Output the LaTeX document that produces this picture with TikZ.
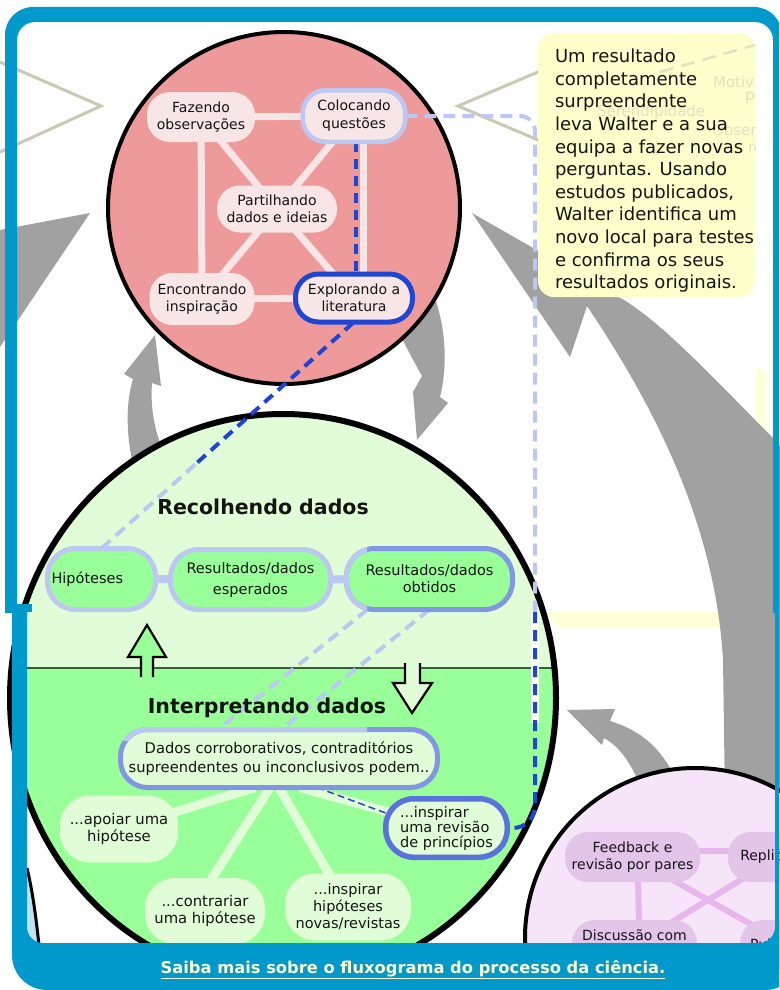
\documentclass[tikz,border=0pt]{standalone}
\usepackage{fontspec}
\setmainfont{DejaVu Sans}
\usetikzlibrary{calc}

\definecolor{frameblue}{HTML}{0099CC}
\definecolor{ink}{HTML}{141414}
\definecolor{rosefill}{HTML}{EE9A9A}
\definecolor{rosecell}{HTML}{F8E6E6}
\definecolor{notefill}{HTML}{FFFFCC}
\definecolor{hiddenfill}{HTML}{FFFFD8}
\definecolor{palegreen}{HTML}{E1FDD7}
\definecolor{midgreen}{HTML}{99FF99}
\definecolor{softblue}{HTML}{BDC8F2}
\definecolor{medblue}{HTML}{8197E3}
\definecolor{deepblue}{HTML}{1F45D3}
\definecolor{ringblue}{HTML}{5A73DC}
\definecolor{arrowgray}{HTML}{A1A1A1}
\definecolor{olive}{HTML}{C9C9B5}
\definecolor{ghost}{HTML}{E2E2BF}
\definecolor{lilacfill}{HTML}{F6E5F8}
\definecolor{lilaccell}{HTML}{E4C5EA}
\definecolor{lilacline}{HTML}{E7B6EC}
\definecolor{divider}{HTML}{3D5B3D}
\definecolor{linkyellow}{HTML}{FFFACD}
\definecolor{paleteal}{HTML}{BFE3EC}

\pgfdeclarelayer{base}
\pgfdeclarelayer{links}
\pgfsetlayers{base,links,main}

\begin{document}
\begin{tikzpicture}[x=1pt, y=-1pt,
  every node/.style={inner sep=0pt, outer sep=0pt, align=center, text=ink},
  fs/.style 2 args={font=\fontsize{#1}{#2}\selectfont},
  rosebox/.style={fill=rosecell, rounded corners=23pt, fs={14}{17}},
  greenpill/.style={fill=midgreen, draw=softblue, line width=5pt, rounded corners=28pt, fs={14.5}{17}},
  paleblob/.style={fill=palegreen, rounded corners=30pt, fs={14.8}{16.5}},
  lilacbox/.style={fill=lilaccell, rounded corners=23pt, fs={14}{17}},
  heading/.style={font=\fontsize{20.5}{24}\bfseries\selectfont},
  roselink/.style={rosecell, line width=7pt},
  spoke/.style={palegreen, line width=9pt},
  lilaclink/.style={lilacline, line width=6pt},
  softdash/.style={softblue, line width=4pt, dash pattern=on 12pt off 7pt},
  deepdash/.style={deepblue, line width=4pt, dash pattern=on 11pt off 7pt},
  hollow/.style={draw=black, line width=2.2pt, line join=miter},
]
\useasboundingbox (0,0) rectangle (779,990);

% ---------------- background shapes ----------------
\begin{pgfonlayer}{base}
  \fill[white] (0,0) rectangle (779,990);
  % second note panel, mostly covered by the page
  \fill[hiddenfill, rounded corners=16pt] (548,365) rectangle (766,627);
  \fill[white] (17,22) rectangle (756,612);
  % pointer outlines
  \draw[olive, line width=3pt] (0,62) -- (101,106) -- (0,152);
  \draw[olive, line width=3pt] (545,69) -- (458,106) -- (545,143);
  % grey cycle arrows
  \fill[arrowgray] (0,230) -- (90,213) -- (0,347) -- cycle;
  \fill[arrowgray] (472,213) -- (570,357) -- (587,306)
     .. controls (650,400) and (715,520) .. (723,660) -- (725,800) -- (800,800) -- (800,470)
     -- (775,440) .. controls (720,385) and (665,325) .. (624,300) -- cycle;
  \fill[arrowgray] (136,478) .. controls (126,440) and (125,405) .. (133,379) -- (124,374)
     -- (155,335) -- (161,386) -- (152,383) .. controls (150,410) and (155,435) .. (168,462) -- cycle;
  \fill[arrowgray] (392,318) .. controls (405,345) and (414,362) .. (422,376) -- (413,392)
     -- (417,440) -- (448,403) -- (440,397) .. controls (448,365) and (446,325) .. (432,290) -- cycle;
  \fill[arrowgray] (567,710) -- (615,709) -- (610,721) .. controls (640,730) and (662,748) .. (676,780)
     -- (640,785) .. controls (630,762) and (620,747) .. (604,738) -- (602,745) -- cycle;
  % exploration bubble
  \filldraw[fill=rosefill, draw=black, line width=4pt] (284,208) circle [radius=176pt];
  % testing bubble, split in two halves
  \begin{scope}
    \clip (283,698) ellipse [x radius=273pt, y radius=284pt];
    \fill[palegreen] (0,400) rectangle (600,668);
    \fill[midgreen] (0,668) rectangle (600,1000);
    \draw[divider, line width=2.5pt] (0,668) -- (600,668);
  \end{scope}
  \draw[black, line width=6pt] (283,698) ellipse [x radius=273pt, y radius=284pt];
  \fill[white] (531,612) rectangle (539,723);
  % community bubble
  \filldraw[fill=lilacfill, draw=black, line width=4pt] (695,938) circle [radius=170pt];
  % edge of a further bubble at lower left
  \fill[paleteal] (20,860) -- (27,868) .. controls (33,893) and (36,918) .. (39,945) -- (20,945) -- cycle;
  \draw[black, line width=3pt] (27,868) .. controls (33,893) and (36,918) .. (39,945);
\end{pgfonlayer}

% ---------------- note ----------------
\node[fill=notefill, rounded corners=16pt, minimum width=217pt, minimum height=264pt] (note) at (646.5,165) {};
\begin{scope}
  \clip (538,33) rectangle (755,297);
  \draw[ghost, line width=2.5pt, dash pattern=on 14pt off 8pt] (660,72) -- (755,45);
  \node[anchor=west, text=ghost, fs={15}{18}] (g1) at (713,82) {Motiv};
  \node[anchor=west, text=ghost, fs={15}{18}] (g2) at (745,98) {pe};
  \node[anchor=west, text=ghost, fs={15}{18}] (g3) at (597,112) {Serendipidade};
  \node[anchor=west, text=ghost, fs={15}{18}] (g4) at (712,130) {Obser};
  \node[anchor=west, text=ghost, fs={15}{18}] (g5) at (748,148) {re};
\end{scope}
\node[anchor=north west, align=left, fs={18}{22.6}] (notetext) at (555,49)
  {Um resultado\\completamente\\surpreendente\\leva Walter e a sua\\equipa a fazer novas\\perguntas. Usando\\estudos publicados,\\Walter identifica um\\novo local para testes\\e confirma os seus\\resultados originais.};

% ---------------- exploration nodes ----------------
\node[rosebox, minimum width=108pt, minimum height=50pt] (obs) at (201,117) {Fazendo\\observações};
\node[rosebox, draw=softblue, line width=4.5pt, minimum width=102.5pt, minimum height=51.5pt, fs={14}{18}] (ask) at (354,116) {Colocando\\questões};
\node[rosebox, minimum width=120pt, minimum height=47pt] (share) at (277,209) {Partilhando\\dados e ideias};
\node[rosebox, minimum width=105pt, minimum height=52pt] (insp) at (202,299) {Encontrando\\inspiração};
\node[rosebox, draw=deepblue, line width=5pt, minimum width=117pt, minimum height=48pt] (lit) at (354,298) {Explorando a\\literatura};

% ---------------- testing nodes ----------------
\node[heading] (gather) at (263,507) {Recolhendo dados};
\node[greenpill, minimum width=108pt, minimum height=61pt, text width=100pt, align=left] (hip) at (101.5,579) {Hipóteses};
\node[greenpill, minimum width=160pt, minimum height=60pt] (esper) at (250.5,579.5) {Resultados/dados\\[4pt]esperados};
\node[greenpill, draw=medblue, minimum width=166pt, minimum height=61pt] (obtid) at (429.5,579) {Resultados/dados\\obtidos};
\begin{scope}
  \clip (330,540) rectangle (367,620);
  \draw[softblue, line width=5pt, rounded corners=28pt] (obtid.south west) rectangle (obtid.north east);
\end{scope}

\filldraw[hollow, fill=midgreen] (141,677) -- (141,657) -- (128,657) -- (147,625) -- (166,657) -- (153,657) -- (153,677);
\filldraw[hollow, fill=palegreen] (405,663) -- (405,683) -- (393,683) -- (412,713) -- (432,683) -- (420,683) -- (420,663);

\node[heading] (interp) at (267,707.5) {Interpretando dados};
\node[fill=palegreen, draw=medblue, line width=5pt, rounded corners=27pt, minimum width=317pt, minimum height=58pt, fs={14.7}{19}] (dados) at (279,758.5)
  {Dados corroborativos, contraditórios\\supreendentes ou inconclusivos podem..};
\begin{scope}
  \clip (100,700) rectangle (367,740);
  \draw[softblue, line width=5pt, rounded corners=27pt] (dados.south west) rectangle (dados.north east);
\end{scope}
\node[paleblob, minimum width=118pt, minimum height=67pt] (apoiar) at (119,829) {...apoiar uma\\hipótese};
\node[paleblob, minimum width=120pt, minimum height=66pt] (contra) at (205,911) {...contrariar\\uma hipótese};
\node[paleblob, minimum width=126pt, minimum height=67pt, fs={14.5}{17}] (novas) at (348,907) {...inspirar\\hipóteses\\novas/revistas};
\node[paleblob, draw=ringblue, line width=5.5pt, rounded corners=28pt, minimum width=121.5pt, minimum height=58.5pt, align=left, fs={14.5}{15}] (revisao) at (446.5,828) {...inspirar\\uma revisão\\de princípios};

% ---------------- community nodes ----------------
\node[lilacbox, minimum width=135pt, minimum height=50pt] (feedback) at (632.5,857) {Feedback e\\revisão por pares};
\node[lilacbox, minimum width=100pt, minimum height=50pt] (replic) at (778,857) {Replicação};
\node[lilacbox, minimum width=125pt, minimum height=50pt] (discuss) at (634.5,945) {Discussão com\\colegas};
\node[lilacbox, minimum width=95pt, minimum height=50pt] (public) at (787.5,945) {Publicação};

% ---------------- connectors ----------------
\begin{pgfonlayer}{links}
  \draw[roselink] (obs.center) -- (ask.center);
  \draw[roselink] (obs.center) -- (insp.center);
  \draw[roselink] (obs.center) -- (share.center);
  \draw[roselink] (ask.center) -- (share.center);
  \draw[roselink] (share.center) -- (insp.center);
  \draw[roselink] (share.center) -- (lit.center);
  \draw[roselink] (insp.center) -- (lit.center);
  \draw[roselink] ([xshift=9pt]ask.center) -- ([xshift=9pt]lit.center);
  \draw[deepblue, line width=3.5pt, dash pattern=on 10pt off 7pt] ([xshift=2pt]ask.south) -- ([xshift=2pt]lit.north);

  \draw[softblue, line width=8pt] (hip.center) -- (esper.center) -- (obtid.center);

  \draw[spoke] ([xshift=-24pt]dados.south) -- (apoiar.center);
  \draw[spoke] ([xshift=-9pt]dados.south) -- ([xshift=-14pt]contra.center);
  \draw[spoke] (dados.south) -- (novas.center);
  \draw[spoke] ([xshift=21pt]dados.south) -- (revisao.center);
  \draw[deepblue, line width=1.5pt, dash pattern=on 7pt off 4pt] ([xshift=38pt]dados.south) -- ([yshift=15pt]revisao.west);

  \coordinate (split) at ($(hip.north)!0.38!(lit.south)$);
  \draw[softdash] (hip.north) -- (split);
  \draw[deepdash] (split) -- (lit.south);
  \draw[softdash] ([xshift=-62pt]obtid.south) -- ([xshift=-61pt]dados.north);
  \draw[softdash] (obtid.south) -- ([xshift=2pt]dados.north);
  \coordinate (turn) at (535,612);
  \draw[softdash, rounded corners=15pt] (ask.east) -| (turn);
  \draw[deepdash, rounded corners=22pt] (turn) |- (revisao.east);

  \draw[lilaclink] ([yshift=6pt]feedback.center) -- ([yshift=6pt]replic.center);
  \draw[lilaclink] ([xshift=5pt]feedback.center) -- ([xshift=5pt]discuss.center);
  \draw[lilaclink] (feedback.center) -- (public.center);
  \draw[lilaclink] (replic.center) -- (discuss.center);
\end{pgfonlayer}

% ---------------- frame ----------------
\begin{scope}
  \clip (0,0) rectangle (779,612);
  \fill[frameblue, even odd rule] [rounded corners=28pt] (5,7) rectangle (782,700)
        [rounded corners=18pt] (17,22) rectangle (773,690);
\end{scope}
\fill[frameblue] (7,604) rectangle (32,612);
\begin{scope}
  \clip (0,612) rectangle (779,990);
  \fill[frameblue, even odd rule] [rounded corners=35pt] (12,560) rectangle (800,990)
        [rounded corners=16pt] (27,500) rectangle (775,943);
\end{scope}
\node[text=linkyellow, font=\fontsize{16.3}{19}\bfseries\selectfont] (more) at (413,968.5) {Saiba mais sobre o fluxograma do processo da ciência.};
\draw[linkyellow, line width=1.3pt] ([yshift=-5pt]more.base west) -- ([yshift=-5pt]more.base east);
\end{tikzpicture}
\end{document}
